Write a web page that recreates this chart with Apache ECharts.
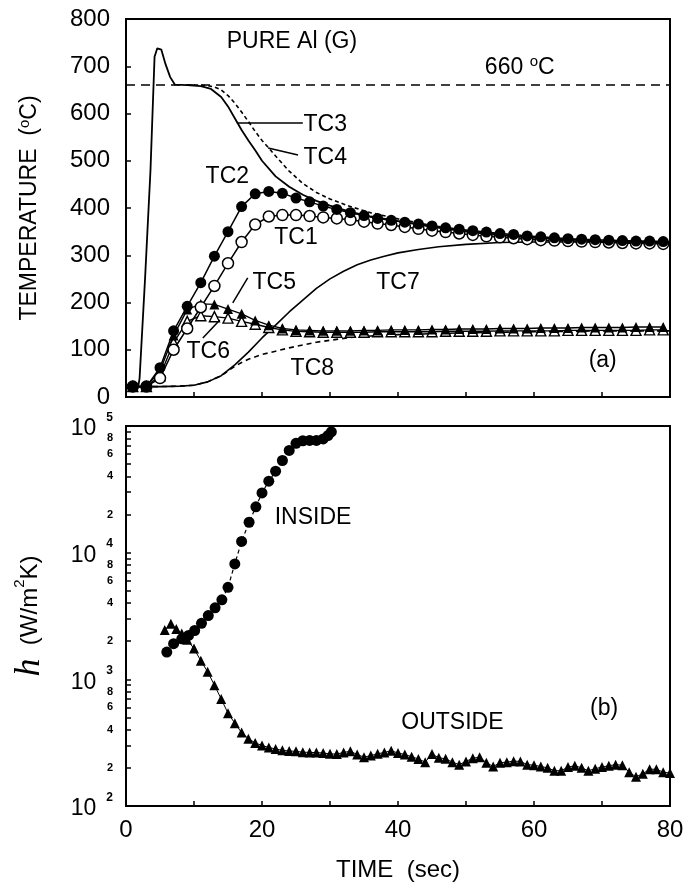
<!DOCTYPE html>
<html><head><meta charset="utf-8">
<script src="https://cdn.jsdelivr.net/npm/echarts@6/dist/echarts.min.js"></script>
<style>html,body{margin:0;padding:0;background:#fff}#c{width:688px;height:886px}</style>
</head><body><div id="c"></div>
<script>
// ---------- DATA (panel a: temperature, deg C vs time, s) ----------
const tc3T = [0, 1.8, 2.0, 2.8, 3.6, 4.2, 4.6, 5.2, 5.8, 6.5, 7.2, 9, 11, 12.5, 14, 15, 16, 17, 18, 19, 20, 22, 24, 26, 28, 30, 33, 36, 40, 45, 50, 55, 60, 70, 80];
const tc3  = [20, 22, 40, 250, 480, 720, 738, 735, 705, 677, 661, 660, 658, 652, 635, 615, 590, 565, 543, 522, 500, 467, 445, 428, 415, 405, 392, 382, 372, 360, 350, 342, 337, 330, 327];

const tc4T = [9, 11, 12, 13, 14, 15, 16, 17, 18, 19, 20, 21, 22, 24, 26, 28, 30, 33, 36, 40, 45, 50, 55, 60, 70, 80];
const tc4  = [660, 660, 659, 656, 650, 638, 622, 603, 583, 562, 543, 527, 510, 478, 452, 433, 419, 403, 390, 377, 363, 352, 344, 338, 331, 327];

const mkT  = [1, 3, 5, 7, 9, 11, 13, 15, 17, 19, 21, 23, 25, 27, 29, 31, 33, 35, 37, 39, 41, 43, 45, 47, 49, 51, 53, 55, 57, 59, 61, 63, 65, 67, 69, 71, 73, 75, 77, 79];
const tc2  = [22, 22, 62, 140, 192, 242, 298, 350, 403, 430, 435, 431, 421, 413, 404, 397, 390, 384, 378, 374, 370, 366, 362, 358, 355, 352, 349, 346, 344, 341, 339, 337, 335, 334, 333, 332, 331, 330, 330, 329];
const tc1  = [22, 22, 40, 100, 145, 190, 235, 283, 328, 365, 382, 385, 385, 383, 380, 378, 375, 371, 367, 364, 360, 356, 352, 349, 346, 343, 340, 338, 336, 334, 332, 331, 330, 329, 328, 327, 326, 325, 325, 324];
const tc5  = [22, 22, 55, 130, 185, 197, 196, 186, 176, 162, 152, 145, 142, 141, 140, 140, 140, 141, 141, 142, 142, 142, 143, 143, 144, 144, 144, 145, 145, 145, 146, 146, 146, 147, 147, 147, 147, 148, 148, 148];
const tc6  = [22, 22, 45, 115, 160, 172, 170, 167, 160, 154, 147, 142, 139, 138, 137, 137, 137, 137, 138, 138, 138, 138, 138, 139, 139, 139, 139, 140, 140, 140, 140, 140, 141, 141, 141, 141, 141, 141, 142, 142];

const tc7T = [0, 5, 8, 10, 12, 14, 16, 18, 20, 22, 24, 26, 28, 30, 32, 34, 36, 38, 40, 43, 46, 50, 55, 60, 70, 80];
const tc7  = [22, 22, 23, 25, 32, 45, 68, 95, 125, 152, 180, 205, 230, 250, 266, 280, 290, 298, 305, 312, 318, 323, 327, 328, 328, 327];

const tc8T = [0, 5, 8, 10, 12, 14, 15, 16, 17, 18, 20, 22, 24, 26, 28, 30, 33, 36, 40, 45, 50, 60, 70, 80];
const tc8  = [22, 22, 23, 25, 32, 45, 55, 65, 73, 80, 90, 97, 104, 110, 116, 120, 126, 129, 132, 134, 136, 138, 140, 140];

const meltT = 660;
const tempTicks = [0, 100, 200, 300, 400, 500, 600, 700, 800];

// ---------- DATA (panel b: heat transfer coefficient h, W/m2K) ----------
const insT = [6.0, 7.0, 8.2, 9.2, 10.1, 11.1, 12.1, 13.1, 14.1, 15.0, 16.0, 17.0, 18.1, 19.1, 20, 21, 22, 23, 24, 25, 26, 27, 28, 29, 29.7, 30.2];
const insH = [1640, 1910, 2090, 2220, 2430, 2770, 3190, 3670, 4240, 5330, 8150, 12270, 17380, 23010, 29600, 36700, 44000, 53400, 64100, 73000, 76500, 77000, 77000, 79000, 84000, 90000];

const outT = [5.7, 6.6, 7.4, 8.2, 9, 10, 11, 12, 13, 14, 15, 16, 17, 18, 19, 20, 21, 22, 23, 24, 25, 26, 27, 28, 29, 30, 31, 32, 33, 34, 35, 36, 37, 38, 39, 40, 41, 42, 43, 44, 45, 46, 47, 48, 49, 50, 51, 52, 53, 54, 55, 56, 57, 58, 59, 60, 61, 62, 63, 64, 65, 66, 67, 68, 69, 70, 71, 72, 73, 74, 75, 76, 77, 78, 79, 80];
const outH = [2450, 2750, 2500, 2300, 2050, 1750, 1400, 1150, 900, 700, 540, 450, 380, 340, 315, 300, 290, 282, 275, 272, 270, 266, 265, 264, 262, 258, 257, 265, 270, 255, 243, 250, 258, 265, 273, 262, 255, 245, 235, 222, 257, 240, 236, 222, 212, 225, 238, 243, 220, 205, 220, 222, 226, 225, 212, 210, 205, 200, 190, 190, 203, 208, 200, 190, 197, 203, 208, 212, 210, 185, 170, 180, 195, 195, 185, 182];

// labelled h values (80000 listed early so the top "10^5" label and its "8" neighbour both stay visible)
const hLabelVals = [100, 200, 400, 600, 800, 80000, 1000, 2000, 4000, 6000, 8000, 10000, 20000, 40000, 60000, 99999.9];
const hTickVals = [100, 200, 300, 400, 500, 600, 700, 800, 900, 1000, 2000, 3000, 4000, 5000, 6000, 7000, 8000, 9000, 10000, 20000, 30000, 40000, 50000, 60000, 70000, 80000, 90000, 99999.9];
const timeTicks = [0, 20, 40, 60, 80];

// ---------- annotations (placed in data coordinates) ----------
const notesA = [
  { name: 'PURE Al (G)', coord: [24.4, 751] },
  { name: '660 {s|o}C', coord: [57.9, 698] },
  { name: 'TC3', coord: [29.3, 576] },
  { name: 'TC4', coord: [29.3, 506] },
  { name: 'TC2', coord: [14.9, 466] },
  { name: 'TC1', coord: [25.0, 337] },
  { name: 'TC5', coord: [21.8, 241] },
  { name: 'TC7', coord: [40.0, 241] },
  { name: 'TC6', coord: [12.1, 95] },
  { name: 'TC8', coord: [27.4, 59] },
  { name: '(a)', coord: [70.1, 76] }
];
const arrowsA = [
  [[26.0, 580], [16.3, 580]],
  [[25.3, 512], [20.9, 527]],
  [[17.9, 252], [15.7, 199]],
  [[11.3, 125], [13.8, 163]]
];
const notesB = [
  { name: 'INSIDE', coord: [27.5, 18900] },
  { name: 'OUTSIDE', coord: [48.0, 455] },
  { name: '(b)', coord: [70.3, 590] }
];

// ---------- chart ----------
const FONT = 'Liberation Sans';
const ink = '#000';
const pairs = (xs, ys) => xs.map((x, i) => [x, ys[i]]);

const axisLine = { show: true, lineStyle: { color: ink, width: 2 } };
const tickIn = { show: true, inside: true, length: 5, lineStyle: { color: ink, width: 1.5 } };

function labelPoints(list) {
  return {
    silent: true,
    symbol: 'circle', symbolSize: 1,
    itemStyle: { color: 'rgba(0,0,0,0)' },
    label: {
      show: true, position: 'inside', color: ink, fontFamily: FONT, fontSize: 23,
      formatter: p => p.name,
      rich: { s: { fontSize: 15, fontFamily: FONT, color: ink, verticalAlign: 'top', padding: [0, 0, 10, 0] } }
    },
    data: list.map(n => ({ name: n.name, coord: n.coord }))
  };
}

const lineBase = { type: 'line', animation: false, silent: true, z: 3 };

const option = {
  animation: false,
  backgroundColor: '#fff',
  textStyle: { fontFamily: FONT, color: ink },
  grid: [
    { left: 126, right: 18, top: 19, height: 378, show: true, borderColor: ink, borderWidth: 2, backgroundColor: 'rgba(0,0,0,0)' },
    { left: 126, right: 18, top: 426, height: 380, show: true, borderColor: ink, borderWidth: 2, backgroundColor: 'rgba(0,0,0,0)' }
  ],
  xAxis: [
    { gridIndex: 0, type: 'value', min: 0, max: 80, interval: 10, axisLine, axisTick: tickIn,
      axisLabel: { show: false }, splitLine: { show: false } },
    { gridIndex: 1, type: 'value', min: 0, max: 80, interval: 10, axisLine, axisTick: tickIn,
      axisLabel: { fontSize: 24, color: ink, fontFamily: FONT, margin: 12,
        formatter: v => timeTicks.indexOf(v) >= 0 ? String(v) : '' },
      splitLine: { show: false },
      name: 'TIME  (sec)', nameLocation: 'middle', nameGap: 52,
      nameTextStyle: { fontSize: 24, color: ink, fontFamily: FONT } }
  ],
  yAxis: [
    { gridIndex: 0, type: 'value', min: 0, max: 800, interval: 100, axisLine, axisTick: tickIn,
      axisLabel: { fontSize: 24, color: ink, fontFamily: FONT, margin: 16,
        formatter: v => tempTicks.indexOf(v) >= 0 ? String(v) : '' },
      splitLine: { show: false },
      name: 'TEMPERATURE  ({s|o}C)', nameLocation: 'middle', nameRotate: 90, nameGap: 84,
      nameTextStyle: { fontSize: 23, color: ink, fontFamily: FONT,
        rich: { s: { fontSize: 15, color: ink, fontFamily: FONT, verticalAlign: 'top', padding: [0, 0, 10, 0] } } } },
    { gridIndex: 1, type: 'log', logBase: 10, min: 100, max: 100000, axisLine,
      axisTick: { show: true, inside: true, length: 5, lineStyle: { color: ink, width: 1.5 }, customValues: hTickVals },
      axisLabel: { color: ink, fontFamily: FONT, margin: 13, customValues: hLabelVals, hideOverlap: false,
        showMinLabel: true, showMaxLabel: true,
        formatter: v => {
          const e = Math.log10(v), r = Math.round(e);
          if (Math.abs(e - r) < 1e-5) return '{b|10}{e|' + r + '}';
          const m = Math.round(v / Math.pow(10, Math.floor(e + 1e-9)));
          return '{m|' + m + '}';
        },
        rich: {
          b: { fontSize: 23, fontFamily: FONT, color: ink, padding: [6, 0, 0, 0] },
          e: { fontSize: 12, fontWeight: 'bold', fontFamily: FONT, color: ink, verticalAlign: 'top', padding: [0, 0, 12, 10] },
          m: { fontSize: 11, fontWeight: 'bold', fontFamily: FONT, color: ink }
        } },
      splitLine: { show: false },
      name: '{h|h}  (W/m{s|2}K)', nameLocation: 'middle', nameRotate: 90, nameGap: 78,
      nameTextStyle: { fontSize: 24, color: ink, fontFamily: FONT,
        rich: {
          h: { fontSize: 36, fontStyle: 'italic', fontFamily: 'Liberation Serif', color: ink },
          s: { fontSize: 15, color: ink, fontFamily: FONT, verticalAlign: 'top', padding: [0, 0, 10, 0] }
        } } }
  ],
  series: [
    Object.assign({}, lineBase, { name: 'TC7', xAxisIndex: 0, yAxisIndex: 0, data: pairs(tc7T, tc7), showSymbol: false,
      lineStyle: { color: ink, width: 1.6 }, markPoint: labelPoints(notesA) }),
    Object.assign({}, lineBase, { name: 'TC8', xAxisIndex: 0, yAxisIndex: 0, data: pairs(tc8T, tc8), showSymbol: false,
      lineStyle: { color: ink, width: 1.6, type: [5, 4] },
      markLine: { silent: true, symbol: ['none', 'none'], label: { show: false },
        lineStyle: { color: ink, width: 1.6, type: [9, 6] }, data: [{ yAxis: meltT }] } }),
    Object.assign({}, lineBase, { name: 'TC3', xAxisIndex: 0, yAxisIndex: 0, data: pairs(tc3T, tc3), showSymbol: false,
      lineStyle: { color: ink, width: 1.8 },
      markLine: { silent: true, symbol: ['none', 'arrow'], symbolSize: [0, 9], label: { show: false },
        lineStyle: { color: ink, width: 1.5, type: 'solid' },
        data: arrowsA.map(a => [{ coord: a[0] }, { coord: a[1] }]) } }),
    Object.assign({}, lineBase, { name: 'TC4', xAxisIndex: 0, yAxisIndex: 0, data: pairs(tc4T, tc4), showSymbol: false,
      lineStyle: { color: ink, width: 1.6, type: [4, 3] } }),
    Object.assign({}, lineBase, { name: 'TC6', xAxisIndex: 0, yAxisIndex: 0, data: pairs(mkT, tc6), symbol: 'triangle', symbolSize: 10,
      itemStyle: { color: '#fff', borderColor: ink, borderWidth: 1.4 }, lineStyle: { color: ink, width: 1.4 } }),
    Object.assign({}, lineBase, { name: 'TC5', xAxisIndex: 0, yAxisIndex: 0, data: pairs(mkT, tc5), symbol: 'triangle', symbolSize: 10,
      itemStyle: { color: ink }, lineStyle: { color: ink, width: 1.4 } }),
    Object.assign({}, lineBase, { name: 'TC1', xAxisIndex: 0, yAxisIndex: 0, data: pairs(mkT, tc1), symbol: 'circle', symbolSize: 11,
      itemStyle: { color: '#fff', borderColor: ink, borderWidth: 1.5 }, lineStyle: { color: ink, width: 1.5 } }),
    Object.assign({}, lineBase, { name: 'TC2', xAxisIndex: 0, yAxisIndex: 0, data: pairs(mkT, tc2), symbol: 'circle', symbolSize: 11,
      itemStyle: { color: ink }, lineStyle: { color: ink, width: 1.5 } }),
    Object.assign({}, lineBase, { name: 'OUTSIDE', xAxisIndex: 1, yAxisIndex: 1, data: pairs(outT, outH), symbol: 'triangle', symbolSize: 10,
      itemStyle: { color: ink }, lineStyle: { color: ink, width: 1 }, markPoint: labelPoints(notesB) }),
    Object.assign({}, lineBase, { name: 'INSIDE', xAxisIndex: 1, yAxisIndex: 1, data: pairs(insT, insH), symbol: 'circle', symbolSize: 11,
      itemStyle: { color: ink }, lineStyle: { color: ink, width: 1.2, type: [4, 3] } })
  ]
};

const chart = echarts.init(document.getElementById('c'), null, { renderer: 'canvas' });
chart.setOption(option);
</script>
</body></html>
